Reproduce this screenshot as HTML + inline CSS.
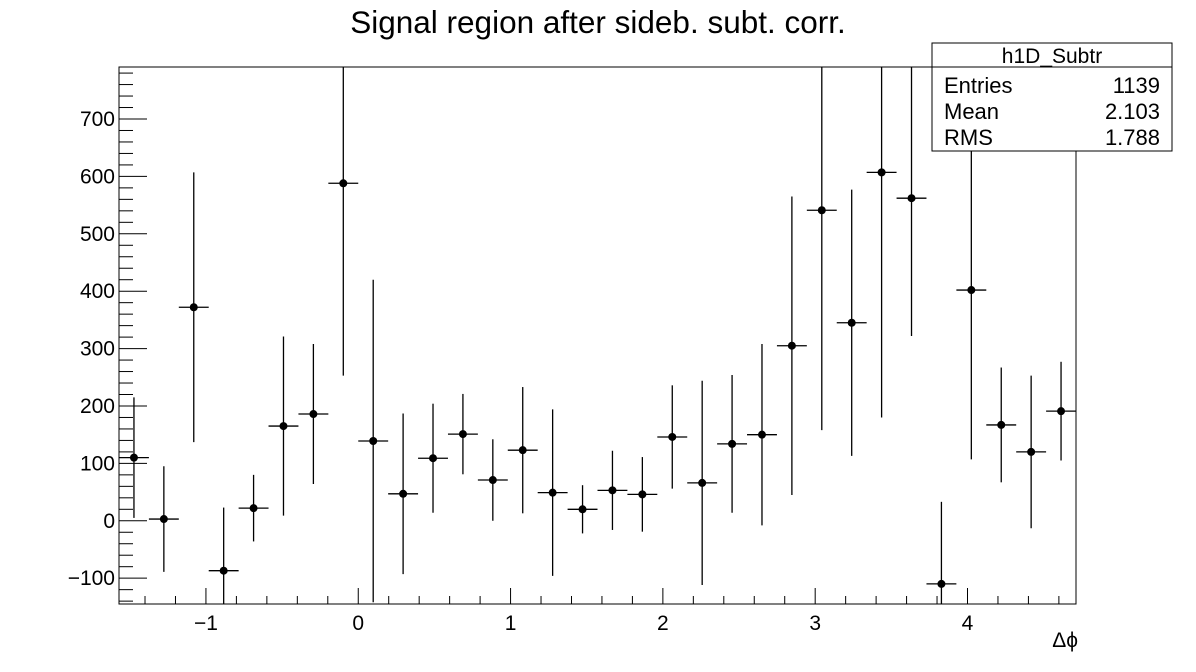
<!DOCTYPE html>
<html><head><meta charset="utf-8"><style>
html,body{margin:0;padding:0;background:#fff;}
svg{display:block;font-family:"Liberation Sans",sans-serif;}
</style></head><body>
<svg id="chart" width="1196" height="672" viewBox="0 0 1196 672" xmlns="http://www.w3.org/2000/svg">
<rect width="1196" height="672" fill="#fff"/>
<text x="598" y="33" font-size="31.5" text-anchor="middle">Signal region after sideb. subt. corr.</text>
<g id="marks"></g>
<g id="axes"></g>
<g>
<rect x="932" y="43" width="240" height="108" fill="#fff" stroke="#000" stroke-width="1"/>
<line x1="932" y1="67" x2="1172" y2="67" stroke="#000"/>
<text x="1052" y="63" font-size="21" text-anchor="middle">h1D_Subtr</text>
<text x="944" y="93" font-size="22">Entries</text><text x="1160" y="93" font-size="22" text-anchor="end">1139</text>
<text x="944" y="119" font-size="22">Mean</text><text x="1160" y="119" font-size="22" text-anchor="end">2.103</text>
<text x="944" y="145" font-size="22">RMS</text><text x="1160" y="145" font-size="22" text-anchor="end">1.788</text>
</g>
<text x="1078" y="647" font-size="21" text-anchor="end">Δϕ</text>
</svg>
<script>
const values=[110,3,372,-87,22,165,186,588,139,47,109,151,71,123,49,20,53,46,146,66,134,150,305,541,345,607,562,-110,402,167,120,191];
const errors=[105,92,235,110,58,156,122,335,281,140,95,70,71,110,145,42,69,65,90,178,120,158,260,383,232,427,240,143,295,100,133,86];
const xTicks=[-1,0,1,2,3,4];
const yTicks=[-100,0,100,200,300,400,500,600,700];
const L=119,R=1076,T=67,B=604;
const xmin=-Math.PI/2,xmax=3*Math.PI/2,ymin=-145,ymax=790.6;
const X=v=>L+(v-xmin)/(xmax-xmin)*(R-L);
const Y=v=>B-(v-ymin)/(ymax-ymin)*(B-T);
const NS="http://www.w3.org/2000/svg";
function mk(tag,attrs,parent){const e=document.createElementNS(NS,tag);for(const k in attrs)e.setAttribute(k,attrs[k]);parent.appendChild(e);return e;}
const marks=document.getElementById('marks'),axes=document.getElementById('axes');
const bw=(xmax-xmin)/values.length;
const clamp=v=>Math.max(T,Math.min(B,v));
values.forEach((v,i)=>{
  const g=mk('g',{},marks);
  
  
  const cx=X(xmin+(i+0.5)*bw),cy=Y(v);
  mk('line',{x1:X(xmin+i*bw),x2:X(xmin+(i+1)*bw),y1:cy,y2:cy,stroke:'#000','stroke-width':1.3},g);
  mk('line',{x1:cx,x2:cx,y1:clamp(Y(v+errors[i])),y2:clamp(Y(v-errors[i])),stroke:'#000','stroke-width':1.3},g);
  mk('circle',{cx:cx,cy:cy,r:4,fill:'#000'},g);
});
const fr=mk('rect',{x:L,y:T,width:R-L,height:B-T,fill:'none',stroke:'#000','stroke-width':1},axes);


for(let k=-8;k<=24;k++){const v=k*0.2;if(v<xmin||v>xmax)continue;const x=X(v);const major=Math.abs(v-Math.round(v))<1e-6;
  mk('line',{x1:x,x2:x,y1:B,y2:B-(major?16:8),stroke:'#000'},axes);}
xTicks.forEach(v=>{const t=mk('text',{x:X(v),y:B+26,'font-size':21,'text-anchor':'middle'},axes);
  
  
  t.textContent=v<0?'\u2212'+(-v):String(v);});
for(let v=-140;v<=780;v+=20){const y=Y(v);const major=v%100===0;
  mk('line',{x1:L,x2:L+(major?28:14),y1:y,y2:y,stroke:'#000'},axes);}
yTicks.forEach(v=>{const t=mk('text',{x:L-4,y:Y(v)+7,'font-size':21,'text-anchor':'end'},axes);
  
  
  t.textContent=v<0?'\u2212'+(-v):String(v);});
</script>
</body></html>
